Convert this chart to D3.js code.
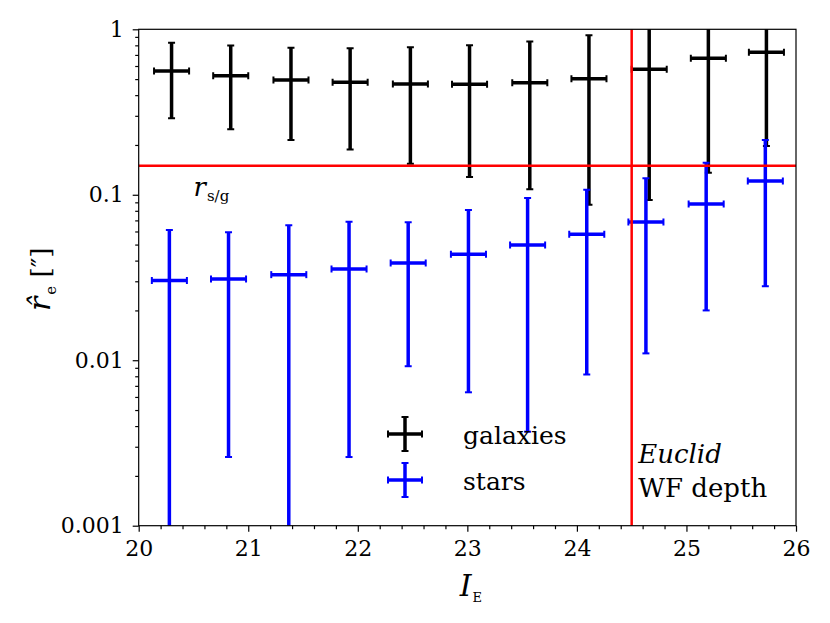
<!DOCTYPE html>
<html>
<head>
<meta charset="utf-8">
<script src="https://cdn.jsdelivr.net/npm/d3@7"></script>
<style>
    body { margin: 0; background: #fff; }
</style>
</head>
<body>
<div id="graphDiv"></div>
<script>
// galaxies: magnitude bin centre, half-width, median size, size error
var galMag = [20.30, 20.84, 21.39, 21.93, 22.48, 23.02, 23.57, 24.11, 24.66, 25.20, 25.73];
var galMagErr = [0.16, 0.16, 0.16, 0.16, 0.16, 0.16, 0.16, 0.16, 0.16, 0.16, 0.16];
var galRe = [0.56, 0.524, 0.494, 0.478, 0.467, 0.465, 0.476, 0.503, 0.573, 0.668, 0.727];
var galReErr = [0.27, 0.275, 0.28, 0.29, 0.313, 0.337, 0.368, 0.416, 0.48, 0.532, 0.53];

// stars
var starMag = [20.28, 20.82, 21.37, 21.92, 22.46, 23.01, 23.55, 24.09, 24.63, 25.18, 25.72];
var starMagErr = [0.16, 0.16, 0.16, 0.16, 0.16, 0.16, 0.16, 0.16, 0.16, 0.16, 0.16];
var starRe = [0.0303, 0.031, 0.0329, 0.0356, 0.0387, 0.0437, 0.0497, 0.0577, 0.0685, 0.088, 0.121];
var starReErr = [0.031, 0.0284, 0.0325, 0.033, 0.0295, 0.0373, 0.046, 0.0495, 0.0575, 0.068, 0.093];

// reference lines
var rSG = 0.15;       // star/galaxy size threshold
var wfDepth = 24.5;   // Euclid wide field depth

var xDomain = [20, 26];
var yDomain = [0.001, 1];
var xTicks = [20, 21, 22, 23, 24, 25, 26];
var yTicks = [0.001, 0.01, 0.1, 1];
var yTickLabels = ["0.001", "0.01", "0.1", "1"];

var FONT = "'DejaVu Serif', serif";

var W = 830, H = 623;
var m = {left: 138.7, right: 34, top: 29.3, bottom: 97.3};
var w = W - m.left - m.right, h = H - m.top - m.bottom;

var svg = d3.select("#graphDiv").append("svg")
    .attr("width", W)
    .attr("height", H)
    .style("font-family", FONT);

var g = svg.append("g").attr("transform", "translate(" + m.left + "," + m.top + ")");

var xScale = d3.scaleLinear().domain(xDomain).range([0, w]);
var yScale = d3.scaleLog().domain(yDomain).range([h, 0]);

g.append("clipPath").attr("id", "plotClip")
    .append("rect").attr("width", w).attr("height", h);

var plot = g.append("g").attr("clip-path", "url(#plotClip)");

// minor ticks
var xMinor = d3.range(20, 26.001, 0.2).map(function (d) { return Math.round(d * 10) / 10; })
    .filter(function (d) { return xTicks.indexOf(d) < 0; });
var yMinor = [];
[0.001, 0.01, 0.1].forEach(function (dec) {
    for (var k = 2; k <= 9; k++) yMinor.push(dec * k);
});

function drawErrorbars(mag, magErr, val, valErr, color) {
    var grp = plot.append("g");
    var cap = 3.5;
    mag.forEach(function (x, i) {
        var lo = Math.max(val[i] - valErr[i], 1e-6),
            hi = val[i] + valErr[i];
        var px = xScale(x), py = yScale(val[i]),
            pLo = yScale(lo), pHi = yScale(hi),
            pxl = xScale(x - magErr[i]), pxr = xScale(x + magErr[i]);
        grp.append("line").attr("x1", pxl).attr("x2", pxr).attr("y1", py).attr("y2", py)
            .attr("stroke", color).attr("stroke-width", 3.5);
        grp.append("line").attr("x1", px).attr("x2", px).attr("y1", pLo).attr("y2", pHi)
            .attr("stroke", color).attr("stroke-width", 3.5);
        // caps
        [pxl, pxr].forEach(function (cx) {
            grp.append("line").attr("x1", cx).attr("x2", cx).attr("y1", py - cap).attr("y2", py + cap)
                .attr("stroke", color).attr("stroke-width", 2);
        });
        [pLo, pHi].forEach(function (cy) {
            grp.append("line").attr("x1", px - cap).attr("x2", px + cap).attr("y1", cy).attr("y2", cy)
                .attr("stroke", color).attr("stroke-width", 2);
        });
    });
}

drawErrorbars(galMag, galMagErr, galRe, galReErr, "#000");
drawErrorbars(starMag, starMagErr, starRe, starReErr, "#0000ff");

// red reference lines
plot.append("line")
    .attr("x1", 0).attr("x2", w)
    .attr("y1", yScale(rSG)).attr("y2", yScale(rSG))
    .attr("stroke", "#ff0000").attr("stroke-width", 2.5);
plot.append("line")
    .attr("x1", xScale(wfDepth)).attr("x2", xScale(wfDepth))
    .attr("y1", 0).attr("y2", h)
    .attr("stroke", "#ff0000").attr("stroke-width", 2.5);

// frame
g.append("rect").attr("width", w).attr("height", h)
    .attr("fill", "none").attr("stroke", "#000").attr("stroke-width", 1.2);

// axes
var xAxis = d3.axisBottom(xScale).tickValues(xTicks).tickFormat(d3.format("d"))
    .tickSize(6).tickPadding(9);
var xAxisMinor = d3.axisBottom(xScale).tickValues(xMinor).tickFormat("").tickSize(3.5);
var yAxis = d3.axisLeft(yScale).tickValues(yTicks)
    .tickFormat(function (d, i) { return yTickLabels[i]; })
    .tickSize(6).tickPadding(9);
var yAxisMinor = d3.axisLeft(yScale).tickValues(yMinor).tickFormat("").tickSize(3.5);

function styleAxis(sel) {
    sel.attr("font-family", null);
    sel.select(".domain").remove();
    sel.selectAll("line").attr("stroke", "#000").attr("stroke-width", 1.2);
    sel.selectAll("text").style("font-family", FONT).attr("font-size", 22).attr("fill", "#000");
}

g.append("g").attr("transform", "translate(0," + h + ")").call(xAxis).call(styleAxis);
g.append("g").attr("transform", "translate(0," + h + ")").call(xAxisMinor).call(styleAxis);
g.append("g").call(yAxis).call(styleAxis);
g.append("g").call(yAxisMinor).call(styleAxis);

// r_s/g label
var rl = g.append("text").attr("x", xScale(20.5)).attr("y", yScale(rSG) + 30);
rl.append("tspan").attr("font-style", "italic").attr("font-size", 26).text("r");
rl.append("tspan").attr("font-size", 15).attr("dy", 5).attr("dx", 1).text("s/g");

// Euclid annotation
g.append("text").attr("x", xScale(24.56)).attr("y", yScale(0.00239))
    .attr("font-size", 26).attr("font-style", "italic").text("Euclid");
g.append("text").attr("x", xScale(24.56)).attr("y", yScale(0.00149))
    .attr("font-size", 26).text("WF depth");

// legend
var legend = svg.append("g").attr("transform", "translate(405,434)");
var legendItems = [{name: "galaxies", color: "#000"}, {name: "stars", color: "#0000ff"}];
legendItems.forEach(function (d, i) {
    var li = legend.append("g").attr("transform", "translate(0," + (i * 46) + ")");
    li.append("line").attr("x1", -17).attr("x2", 17).attr("stroke", d.color).attr("stroke-width", 3.5);
    li.append("line").attr("y1", -17).attr("y2", 17).attr("stroke", d.color).attr("stroke-width", 3.5);
    [-17, 17].forEach(function (c) {
        li.append("line").attr("x1", c).attr("x2", c).attr("y1", -3.5).attr("y2", 3.5)
            .attr("stroke", d.color).attr("stroke-width", 2);
        li.append("line").attr("y1", c).attr("y2", c).attr("x1", -3.5).attr("x2", 3.5)
            .attr("stroke", d.color).attr("stroke-width", 2);
    });
    li.append("text").attr("x", 58).attr("y", 10).attr("font-size", 25).text(d.name);
});

// axis labels
var xl = svg.append("text").attr("x", m.left + xScale(22.93)).attr("y", 596);
xl.append("tspan").attr("font-style", "italic").attr("font-size", 30).text("I");
xl.append("tspan").attr("font-size", 13).attr("dy", 6).attr("dx", 1).text("E");

var yl = svg.append("text")
    .attr("transform", "translate(50,311) rotate(-90)");
yl.append("tspan").attr("font-style", "italic").attr("font-size", 30).text("r\u0302");
yl.append("tspan").attr("font-size", 15).attr("dy", 6).attr("dx", 2).text("e");
yl.append("tspan").attr("font-size", 26).attr("dy", -6).text(" [\u2033]");
</script>
</body>
</html>
